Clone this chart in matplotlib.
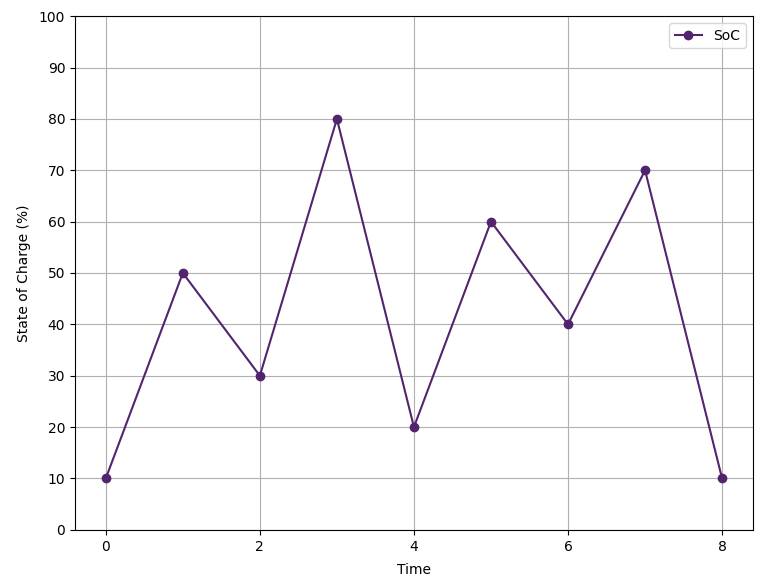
import matplotlib
matplotlib.use("Agg")
import matplotlib.pyplot as plt

# time steps and state of charge readings
time = [0, 1, 2, 3, 4, 5, 6, 7, 8]
soc = [10, 50, 30, 80, 20, 60, 40, 70, 10]
xticks = [0, 2, 4, 6, 8]

fig, ax = plt.subplots(figsize=(7.73, 5.79), dpi=100)
ax.plot(time, soc, marker='o', color='#52246e', label='SoC')
ax.set_xlabel('Time', labelpad=7)
ax.set_ylabel('State of Charge (%)', labelpad=6)
ax.set_ylim(0, 100)
ax.set_yticks(range(0, 101, 10))
ax.set_xticks(xticks)
ax.grid(True)
ax.legend(loc='upper right')

plt.subplots_adjust(left=0.097, right=0.974, top=0.972, bottom=0.085)
plt.savefig('out.png', dpi=100)
